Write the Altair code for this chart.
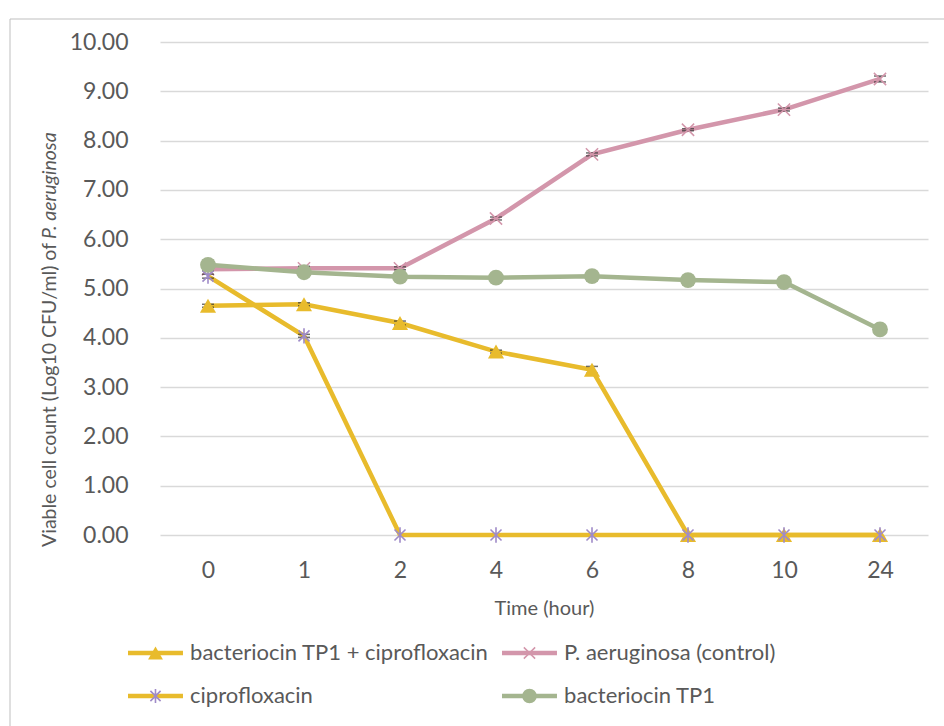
import altair as alt
import pandas as pd

# ---------------- data ----------------
times = ["0", "1", "2", "4", "6", "8", "10", "24"]
series_names = [
    "bacteriocin TP1 + ciprofloxacin",
    "P. aeruginosa (control)",
    "ciprofloxacin",
    "bacteriocin TP1",
]
combo = [4.65, 4.68, 4.30, 3.72, 3.35, 0.00, 0.00, 0.00]
control = [5.39, 5.41, 5.41, 6.42, 7.72, 8.22, 8.63, 9.25]
cipro = [5.25, 4.04, 0.00, 0.00, 0.00, 0.00, 0.00, 0.00]
bact = [5.48, 5.33, 5.24, 5.22, 5.25, 5.17, 5.13, 4.17]

combo_err = [0.03, 0.03, 0.04, 0.03, 0.07, 0.00, 0.00, 0.00]
control_err = [0.03, 0.04, 0.03, 0.03, 0.03, 0.02, 0.03, 0.06]
cipro_err = [0.04, 0.03, 0.00, 0.00, 0.00, 0.00, 0.00, 0.00]
bact_err = [0.09, 0.08, 0.08, 0.08, 0.09, 0.09, 0.08, 0.08]

y_title_parts = ["Viable cell count (Log10 CFU/ml) of ", "P. aeruginosa"]
x_title = "Time (hour)"
legend_col = [0, 1, 0, 1]
legend_row = [0, 0, 1, 1]

# ---------------- styles ----------------
line_colors = ["#E8BB2C", "#D396AB", "#E8BB2C", "#A4B58F"]
marker_colors = ["#E8BB2C", "#D396AB", "#9F8BC8", "#A4B58F"]
text_color = "#595959"
FONT = "Lato"

TRI = "triangle-up"
XSHAPE = "M-1,-1L1,1M-1,1L1,-1"
AST = "M-0.9,-0.9L0.9,0.9M-0.9,0.9L0.9,-0.9M0,-1.25L0,1.25"
markers = [
    dict(shape=TRI, filled=True, size=260, strokeWidth=0),
    dict(shape=XSHAPE, filled=False, size=150, strokeWidth=1.5),
    dict(shape=AST, filled=False, size=150, strokeWidth=1.6),
    dict(shape="circle", filled=True, size=250, strokeWidth=0),
]

rows = []
for name, vals, errs in zip(series_names, [combo, control, cipro, bact],
                            [combo_err, control_err, cipro_err, bact_err]):
    for t, v, e in zip(times, vals, errs):
        rows.append(dict(time=t, series=name, value=v, lo=v - e, hi=v + e, err=e))
df = pd.DataFrame(rows)

x_enc = alt.X(
    "time:O", sort=times,
    scale=alt.Scale(type="point", padding=0.5),
    axis=alt.Axis(title=x_title, labelAngle=0, domain=False, ticks=False,
                  labelFontSize=23, labelColor=text_color, labelPadding=24,
                  labelFont=FONT, titleFont=FONT, titleFontSize=20,
                  titleFontWeight="normal", titleColor=text_color, titlePadding=16,
                  grid=False),
)
y_enc = alt.Y(
    "value:Q",
    scale=alt.Scale(domain=[0, 10], nice=False, zero=True),
    axis=alt.Axis(title=None, values=list(range(0, 11)), format=".2f",
                  domain=False, ticks=False, labelFontSize=23, labelColor=text_color,
                  labelFont=FONT, labelPadding=32, grid=True, gridColor="#D9D9D9",
                  gridWidth=1.5),
)

base = alt.Chart(df).encode(x=x_enc, y=y_enc)

main_layers = []
for i, name in enumerate(series_names):
    sub = base.transform_filter(alt.datum.series == name)
    main_layers.append(sub.mark_line(color=line_colors[i], strokeWidth=4.5))
for i, name in enumerate(series_names):
    sub = base.transform_filter(alt.datum.series == name)
    eb = sub.transform_filter(alt.datum.err > 0)
    main_layers.append(eb.mark_rule(color="#333333", strokeWidth=1).encode(
        y="lo:Q", y2="hi:Q"))
    main_layers.append(eb.mark_tick(color="#333333", thickness=1.5, size=12,
                                    orient="horizontal").encode(y="lo:Q"))
    main_layers.append(eb.mark_tick(color="#333333", thickness=1.5, size=12,
                                    orient="horizontal").encode(y="hi:Q"))
    m = markers[i]
    if m["filled"]:
        main_layers.append(sub.mark_point(shape=m["shape"], filled=True, size=m["size"],
                                          color=marker_colors[i], opacity=1))
    else:
        main_layers.append(sub.mark_point(shape=m["shape"], filled=False, size=m["size"],
                                          color=marker_colors[i], strokeWidth=m["strokeWidth"],
                                          opacity=1))

# y-axis title (normal + italic part)
ytitle_df = pd.DataFrame({"t": y_title_parts})
main_layers.append(
    alt.Chart(ytitle_df).transform_filter(alt.datum.t == y_title_parts[0]).mark_text(
        angle=270, align="left", baseline="middle", fontSize=19.5, font=FONT,
        color=text_color).encode(text="t:N", x=alt.value(-110), y=alt.value(505))
)
main_layers.append(
    alt.Chart(ytitle_df).transform_filter(alt.datum.t == y_title_parts[1]).mark_text(
        angle=270, align="left", baseline="middle", fontSize=19.5, font=FONT,
        fontStyle="italic", color=text_color).encode(text="t:N", x=alt.value(-110), y=alt.value(197))
)
# chart-area frame
main_layers.append(
    alt.Chart(ytitle_df.head(1)).mark_rect(fill=None, stroke="#BFBFBF", strokeWidth=1).encode(
        x=alt.value(-150), x2=alt.value(800), y=alt.value(-23), y2=alt.value(720))
)

main = alt.layer(*main_layers)

# ---------------- legend ----------------
leg_df = pd.DataFrame({"series": series_names, "col": legend_col, "row": legend_row})
lx = alt.Scale(domain=[0, 1], range=[-32, 342])
ly = alt.Scale(domain=[0, 1], range=[611, 654])
leg_base = alt.Chart(leg_df).transform_calculate(
    c_end="datum.col + 0.147", c_mid="datum.col + 0.0735", c_txt="datum.col + 0.166")
legend_layers = []
for i, name in enumerate(series_names):
    s = leg_base.transform_filter(alt.datum.series == name)
    legend_layers.append(s.mark_rule(color=line_colors[i], strokeWidth=4.5).encode(
        x=alt.X("col:Q", scale=lx, axis=None), x2="c_end:Q",
        y=alt.Y("row:Q", scale=ly, axis=None)))
    m = markers[i]
    kw = dict(shape=m["shape"], filled=m["filled"], size=m["size"] * 0.85,
              color=marker_colors[i], opacity=1)
    if not m["filled"]:
        kw["strokeWidth"] = m["strokeWidth"]
    legend_layers.append(s.mark_point(**kw).encode(
        x=alt.X("c_mid:Q", scale=lx, axis=None),
        y=alt.Y("row:Q", scale=ly, axis=None)))
legend_layers.append(leg_base.mark_text(align="left", baseline="middle", fontSize=22,
                                        font=FONT, color=text_color).encode(
    x=alt.X("c_txt:Q", scale=lx, axis=None),
    y=alt.Y("row:Q", scale=ly, axis=None), text="series:N"))
legend = alt.layer(*legend_layers)

chart = alt.layer(main, legend).resolve_scale(x="independent", y="independent").properties(
    width=768, height=493,
    autosize=alt.AutoSizeParams(type="none"),
    padding={"left": 160, "top": 42, "right": 16, "bottom": 191},
    background="white",
).configure_view(stroke=None)

chart.save("out.html", embed_options={"renderer": "svg", "actions": False})
